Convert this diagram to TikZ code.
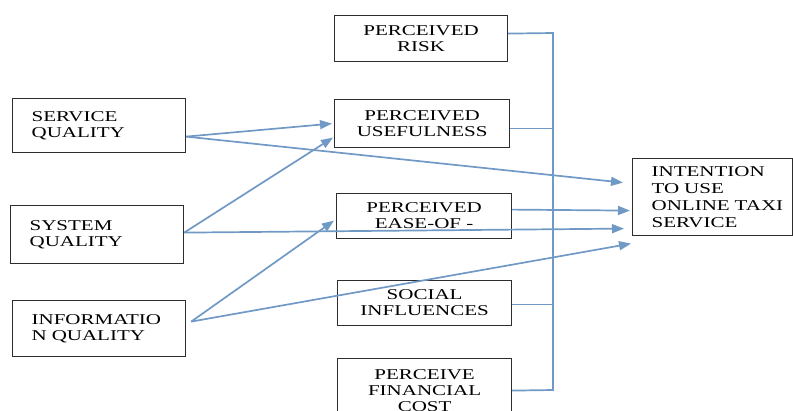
\documentclass[tikz,border=0pt]{standalone}
\usepackage{fontspec}
\setmainfont[FakeStretch=1.4]{Liberation Serif}
\usetikzlibrary{arrows.meta,calc}
\definecolor{arr}{RGB}{112,153,198}
\definecolor{edge}{RGB}{45,45,45}
\begin{document}
\begin{tikzpicture}[x=1pt,y=-1pt,
  box/.style={draw=edge,line width=1.2pt,rectangle,anchor=north west,inner ysep=0pt,
    font=\fontsize{15}{16}\selectfont},
  lbox/.style 2 args={box,align=left,inner xsep=19pt,text width=#1,minimum height=#2},
  cbox/.style 2 args={box,align=center,inner xsep=0pt,minimum width=#1,minimum height=#2},
  conn/.style={draw=arr,line width=1.7pt},
  arrow/.style={conn,-{Triangle[length=12pt,width=9pt]}}]
\useasboundingbox (0,0) rectangle (793,410);
\clip (0,0) rectangle (793,410);

% left boxes (box width 173 = 135 + 2*19)
\node[lbox={135pt}{54pt}] (sq) at (12,98) {SERVICE\\QUALITY};
\node[lbox={135pt}{58pt}] (sy) at (10,205) {SYSTEM\\QUALITY};
\node[lbox={135pt}{56pt}] (iq) at (12,300) {INFORMATIO\\N QUALITY};

% middle boxes
\node[cbox={173pt}{46pt}] (pr) at (334,15) {PERCEIVED\\RISK};
\node[cbox={175pt}{48pt}] (pu) at (334,99) {PERCEIVED\\USEFULNESS};
\node[cbox={175pt}{45pt}] (pe) at (336,193) {PERCEIVED\\EASE-OF -};
\node[cbox={174pt}{45pt}] (si) at (337,280) {SOCIAL\\INFLUENCES};
\node[cbox={174pt}{64pt}] (fc) at (337,358) {PERCEIVE\\FINANCIAL\\COST};

% right box (width 160 = 122 + 2*19)
\node[lbox={122pt}{77pt},font=\fontsize{15}{17}\selectfont] (it) at (632,158)
  {INTENTION\\TO~USE\\ONLINE~TAXI\\SERVICE};

% arrows from left boxes
\draw[arrow] ([yshift=-11pt]sq.east) -- ([xshift=-2pt]pu.west);
\draw[arrow] ([yshift=-11pt]sq.east) -- ([xshift=-9pt,yshift=14.5pt]it.west);
\draw[arrow] ([yshift=2pt]sy.east) -- ([xshift=-1pt,yshift=-14pt]pu.west);
\draw[arrow] ([yshift=2pt]sy.east) -- ([xshift=-8pt,yshift=-31.5pt]it.west);
\draw[arrow] ([xshift=5pt,yshift=7pt]iq.east) -- ([xshift=-2pt,yshift=-4.5pt]pe.west);
\draw[arrow] ([xshift=5pt,yshift=7pt]iq.east) -- ([xshift=-1pt,yshift=-46.5pt]it.west);
\draw[arrow] ([yshift=6.5pt]pe.east) -- ([xshift=-2pt,yshift=-13.5pt]it.west);

% bus
\coordinate (bt) at (553,33);
\coordinate (bb) at (553,390);
\coordinate (pro) at ([yshift=5pt]pr.east);
\coordinate (puo) at ([yshift=-5pt]pu.east);
\coordinate (sio) at ([yshift=-1.5pt]si.east);
\coordinate (fco) at ([yshift=0pt]fc.east);
\draw[conn] (pro) -- (bt) -- (bb) -- (fco);
\draw[conn] (puo) -- (puo -| bt);
\draw[conn] (sio) -- (sio -| bt);
\end{tikzpicture}
\end{document}
